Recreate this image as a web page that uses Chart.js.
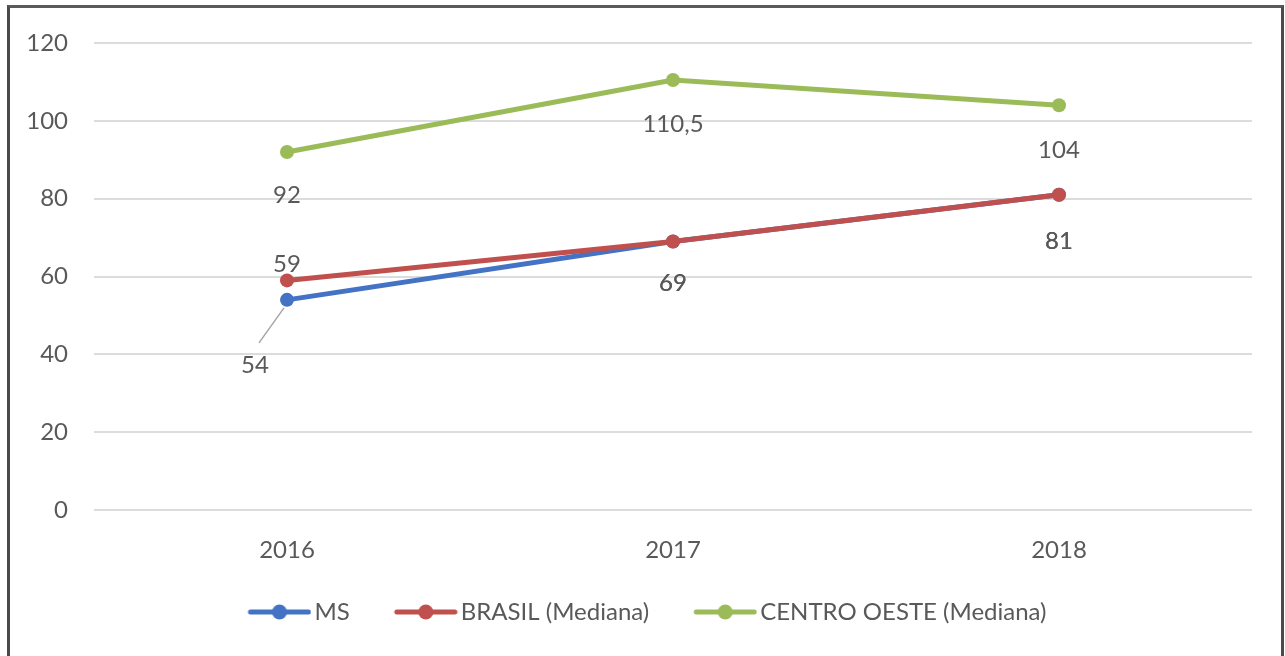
<!DOCTYPE html>
<html>
<head>
    <title>MS x Brasil x Centro Oeste</title>
    <script src="https://cdn.jsdelivr.net/npm/chart.js"></script>
    <style>
        body {
            margin: 0;
            overflow: hidden;
            background: white;
        }
        .wrap {
            position: absolute;
            left: 0;
            top: 0;
            width: 1285px;
            height: 656px;
        }
        .frame {
            position: absolute;
            left: 7px;
            top: 5px;
            width: 1271px;
            height: 700px;
            border-left: 3px solid #4a4a4a;
            border-top: 3px solid #5a5a5a;
            border-right: 3px solid #4a4a4a;
            pointer-events: none;
        }
    </style>
</head>
<body>
    <div class="wrap">
        <canvas id="lineChart" width="1285" height="656"></canvas>
    </div>
    <div class="frame"></div>

    <script>
        const years = ['2016', '2017', '2018'];
        const msValues = [54, 69, 81];
        const brasilValues = [59, 69, 81];
        const centroOesteValues = [92, 110.5, 104];
        const yTicks = [0, 20, 40, 60, 80, 100, 120];

        const seriesNames = ['MS', 'BRASIL (Mediana)', 'CENTRO OESTE (Mediana)'];
        const colors = ['#4472C4', '#C0504D', '#9BBB59'];
        const textColor = '#595959';
        const fontFamily = 'Lato, "Open Sans", sans-serif';

        // line + dot picture for the legend; transparent strip on the left
        // so the visible marker sits right next to its text
        function legendMarker(color) {
            const c = document.createElement('canvas');
            c.width = 97;
            c.height = 18;
            const ctx = c.getContext('2d');
            ctx.strokeStyle = color;
            ctx.lineWidth = 5;
            ctx.lineCap = 'round';
            ctx.beginPath();
            ctx.moveTo(36, 9);
            ctx.lineTo(94, 9);
            ctx.stroke();
            ctx.fillStyle = color;
            ctx.beginPath();
            ctx.arc(65, 9, 7.5, 0, Math.PI * 2);
            ctx.fill();
            return c;
        }

        function formatValue(v) {
            return String(v).replace('.', ',');
        }

        // value labels, placed like the spreadsheet chart did
        const valueLabels = {
            id: 'valueLabels',
            afterDatasetsDraw(chart) {
                const ctx = chart.ctx;
                ctx.save();
                ctx.font = '24px ' + fontFamily;
                ctx.fillStyle = textColor;
                ctx.textAlign = 'center';
                ctx.textBaseline = 'middle';
                chart.data.datasets.forEach((ds, i) => {
                    const meta = chart.getDatasetMeta(i);
                    meta.data.forEach((pt, j) => {
                        const off = ds.labelOffsets[j];
                        const x = pt.x + off[0];
                        const y = pt.y + off[1];
                        if (off[2]) {
                            ctx.strokeStyle = '#a6a6a6';
                            ctx.lineWidth = 1.5;
                            ctx.beginPath();
                            ctx.moveTo(pt.x - 3, pt.y + 8);
                            ctx.lineTo(x + 4, y - 22);
                            ctx.stroke();
                        }
                        ctx.fillText(formatValue(ds.data[j]), x, y);
                    });
                });
                ctx.restore();
            }
        };

        function makeDataset(idx, values, order, labelOffsets) {
            return {
                label: seriesNames[idx],
                data: values,
                borderColor: colors[idx],
                backgroundColor: colors[idx],
                borderWidth: 5,
                pointRadius: 7,
                pointHoverRadius: 7,
                pointBorderWidth: 0,
                tension: 0,
                order: order,
                labelOffsets: labelOffsets
            };
        }

        const config = {
            type: 'line',
            data: {
                labels: years,
                datasets: [
                    makeDataset(0, msValues, 1, [[-32, 65, true], [0, 42], [0, 46]]),
                    makeDataset(1, brasilValues, 0, [[0, -16], [0, 42], [0, 46]]),
                    makeDataset(2, centroOesteValues, 2, [[0, 43], [0, 44], [0, 45]])
                ]
            },
            options: {
                responsive: false,
                animation: false,
                layout: {
                    padding: { left: 18, right: 33, top: 43, bottom: 22 }
                },
                plugins: {
                    tooltip: { enabled: false },
                    legend: {
                        position: 'bottom',
                        labels: {
                            usePointStyle: true,
                            pointStyleWidth: 79,
                            padding: 20,
                            color: textColor,
                            font: { family: fontFamily, size: 24 },
                            generateLabels(chart) {
                                return chart.data.datasets.map((ds, i) => ({
                                    text: ds.label,
                                    fillStyle: ds.borderColor,
                                    strokeStyle: ds.borderColor,
                                    pointStyle: legendMarker(ds.borderColor),
                                    fontColor: textColor,
                                    datasetIndex: i,
                                    hidden: false
                                }));
                            }
                        }
                    }
                },
                scales: {
                    x: {
                        offset: true,
                        grid: { display: false, drawTicks: false },
                        border: { display: false },
                        ticks: {
                            color: textColor,
                            padding: 26,
                            font: { family: fontFamily, size: 24 }
                        },
                        afterFit(scale) {
                            scale.height = 70;
                        }
                    },
                    y: {
                        min: 0,
                        max: 120,
                        afterBuildTicks(scale) {
                            scale.ticks = yTicks.map(v => ({ value: v }));
                        },
                        grid: { color: '#dcdcdc', lineWidth: 2, drawTicks: false },
                        border: { display: false },
                        ticks: {
                            color: textColor,
                            padding: 26,
                            font: { family: fontFamily, size: 24 }
                        },
                        afterFit(scale) {
                            scale.width = 76;
                        }
                    }
                }
            },
            plugins: [valueLabels]
        };

        new Chart(document.getElementById('lineChart'), config);
    </script>
</body>
</html>
